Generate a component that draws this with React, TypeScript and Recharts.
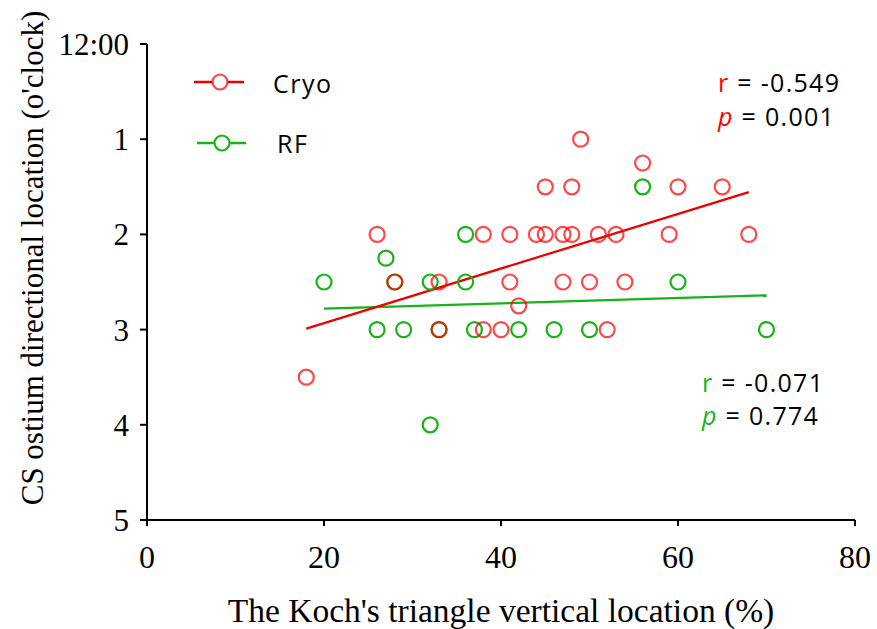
import React from 'react';
import { ScatterChart, Scatter, XAxis, YAxis, ReferenceLine } from 'recharts';

// Cryo group: Koch's triangle vertical location (%) vs CS ostium direction (o'clock)
const cryoX = [18, 26, 28, 33, 33, 38, 38, 40, 41, 41, 42, 44, 45, 45, 47, 47, 48, 48, 49, 50, 51, 52, 53, 54, 56, 59, 60, 65, 68];
const cryoY = [3.5, 2, 2.5, 2.5, 3, 2, 3, 3, 2, 2.5, 2.75, 2, 1.5, 2, 2, 2.5, 1.5, 2, 1, 2.5, 2, 3, 2, 2.5, 1.25, 2, 1.5, 1.5, 2];

// RF group
const rfX = [20, 26, 27, 28, 29, 32, 32, 33, 36, 36, 37, 42, 46, 50, 56, 60, 70];
const rfY = [2.5, 3, 2.25, 2.5, 3, 2.5, 4, 3, 2, 2.5, 3, 3, 3, 3, 1.5, 2.5, 3];

// Regression line endpoints
const cryoFitX = [18, 68];
const cryoFitY = [2.99, 1.555];
const rfFitX = [20, 70];
const rfFitY = [2.78, 2.64];

const xTicks = [0, 20, 40, 60, 80];
const yTicks = [0, 1, 2, 3, 4, 5];
const yTickLabels = ['12:00', '1', '2', '3', '4', '5'];

const cryoStats = { r: '-0.549', p: '0.001' };
const rfStats = { r: '-0.071', p: '0.774' };

const cryoData = cryoX.map((x, i) => ({ x, y: cryoY[i] }));
const rfData = rfX.map((x, i) => ({ x, y: rfY[i] }));

const RED = '#ff0000';
const RED_LINE = '#ee0000';
const GREEN = '#17b317';

const serif = '"Liberation Serif", "Times New Roman", serif';
const sans = '"Open Sans", "Noto Sans", sans-serif';

const redCircle = (props: any) => (
  <circle cx={props.cx} cy={props.cy} r={7.5} fill="none" stroke={RED} strokeOpacity={0.72} strokeWidth={2.2} />
);
const greenCircle = (props: any) => (
  <circle cx={props.cx} cy={props.cy} r={7.5} fill="none" stroke={GREEN} strokeWidth={2.2} />
);

const XTick = (props: any) => (
  <text x={props.x} y={props.y} dy="0.71em" textAnchor="middle" fontFamily={serif} fontSize={32} fill="#000">
    {props.payload.value}
  </text>
);

const YTick = (props: any) => (
  <text x={props.x} y={props.y} dy="0.355em" textAnchor="end" fontFamily={serif} fontSize={31} fill="#000">
    {yTickLabels[yTicks.indexOf(props.payload.value)]}
  </text>
);

const YTitle = (props: any) => {
  const vb = props.viewBox || { x: 0, y: 44, height: 476 };
  const cx = 43;
  const cy = vb.y + vb.height / 2 - 24;
  return (
    <text
      x={cx}
      y={cy}
      transform={`rotate(-90 ${cx} ${cy})`}
      textAnchor="middle"
      fontFamily={serif}
      fontSize={31}
      fill="#000"
    >
      CS ostium directional location (o'clock)
    </text>
  );
};

export default function App() {
  return (
    <div style={{ position: 'absolute', left: 0, top: 0, width: 877, height: 629, background: '#fff' }}>
      <ScatterChart width={877} height={629} margin={{ top: 44, right: 22, bottom: 0, left: 0 }}>
        <XAxis
          type="number"
          dataKey="x"
          domain={[0, 80]}
          ticks={xTicks}
          height={109}
          axisLine={{ stroke: '#000', strokeWidth: 2 }}
          tickLine={{ stroke: '#000', strokeWidth: 2 }}
          tickSize={6}
          tickMargin={19}
          tick={<XTick />}
          label={{
            value: "The Koch's triangle vertical location (%)",
            position: 'insideBottom',
            offset: 7,
            style: { fontFamily: serif, fontSize: 33.5, fill: '#000' },
          }}
        />
        <YAxis
          type="number"
          dataKey="y"
          domain={[0, 5]}
          reversed
          ticks={yTicks}
          width={147}
          axisLine={{ stroke: '#000', strokeWidth: 2 }}
          tickLine={{ stroke: '#000', strokeWidth: 2 }}
          tickSize={7}
          tickMargin={11}
          tick={<YTick />}
          label={<YTitle />}
        />
        <Scatter data={rfData} shape={greenCircle} isAnimationActive={false} />
        <Scatter data={cryoData} shape={redCircle} isAnimationActive={false} />
        <ReferenceLine
          segment={[{ x: rfFitX[0], y: rfFitY[0] }, { x: rfFitX[1], y: rfFitY[1] }]}
          stroke={GREEN}
          strokeWidth={2.3}
          ifOverflow="visible"
        />
        <ReferenceLine
          segment={[{ x: cryoFitX[0], y: cryoFitY[0] }, { x: cryoFitX[1], y: cryoFitY[1] }]}
          stroke={RED_LINE}
          strokeWidth={2.3}
          ifOverflow="visible"
        />
      </ScatterChart>
      <svg width={877} height={629} style={{ position: 'absolute', left: 0, top: 0, pointerEvents: 'none' }}>
        {/* Legend */}
        <line x1={194} y1={82} x2={244} y2={82} stroke={RED_LINE} strokeWidth={2.5} />
        <circle cx={220} cy={82} r={7.5} fill="#fff" stroke={RED} strokeOpacity={0.72} strokeWidth={2.2} />
        <text x={273} y={93} fontFamily={sans} fontSize={25} fill="#000" letterSpacing={1.5}>Cryo</text>
        <line x1={197} y1={143} x2={246} y2={143} stroke={GREEN} strokeWidth={2.5} />
        <circle cx={222} cy={143} r={7.5} fill="#fff" stroke={GREEN} strokeWidth={2.2} />
        <text x={277} y={153} fontFamily={sans} fontSize={25} fill="#000" letterSpacing={1.5}>RF</text>
        {/* Cryo stats */}
        <text x={718} y={92} fontFamily={sans} fontSize={25} fill="#000" letterSpacing={1.3}>
          <tspan fill={RED}>r</tspan> = {cryoStats.r}
        </text>
        <text x={718} y={126} fontFamily={sans} fontSize={25} fill="#000" letterSpacing={1.3}>
          <tspan fill={RED} fontStyle="italic">p</tspan> = {cryoStats.p}
        </text>
        {/* RF stats */}
        <text x={702} y={392} fontFamily={sans} fontSize={25} fill="#000" letterSpacing={1.3}>
          <tspan fill={GREEN}>r</tspan> = {rfStats.r}
        </text>
        <text x={702} y={425} fontFamily={sans} fontSize={25} fill="#000" letterSpacing={1.3}>
          <tspan fill={GREEN} fontStyle="italic">p</tspan> = {rfStats.p}
        </text>
      </svg>
    </div>
  );
}
